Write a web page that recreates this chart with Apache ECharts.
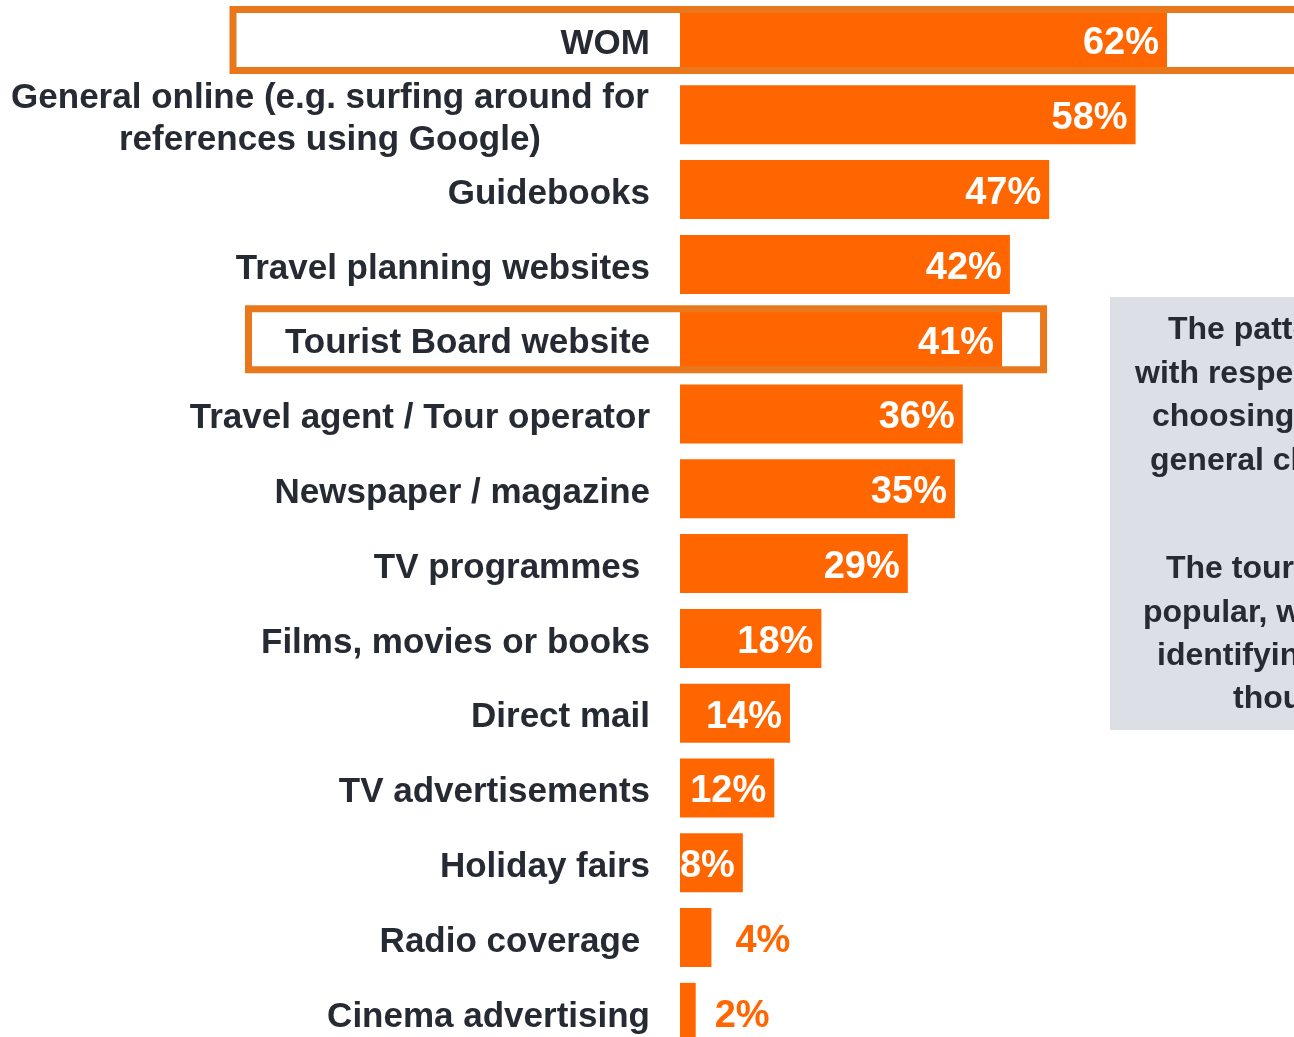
<!DOCTYPE html>
<html>
<head>
<meta charset="utf-8">
<script src="https://cdn.jsdelivr.net/npm/echarts@6/dist/echarts.min.js"></script>
<style>
  html, body { margin: 0; padding: 0; background: #ffffff; overflow: hidden; }
  #chart { width: 1294px; height: 1037px; }
</style>
</head>
<body>
<div id="chart"></div>
<script>
// Sources used when choosing a destination (% of respondents)
const categories = [
  'WOM',
  'General online (e.g. surfing around for\nreferences using Google)',
  'Guidebooks',
  'Travel planning websites',
  'Tourist Board website',
  'Travel agent / Tour operator',
  'Newspaper / magazine',
  'TV programmes ',
  'Films, movies or books',
  'Direct mail',
  'TV advertisements',
  'Holiday fairs',
  'Radio coverage ',
  'Cinema advertising'
];
const shares = [62, 58, 47, 42, 41, 36, 35, 29, 18, 14, 12, 8, 4, 2];
const highlighted = ['WOM', 'Tourist Board website'];

// Commentary panel on the right
const noteLines = [
  'The pattern is similar',
  'with respect to sources for',
  'choosing a destination, with',
  'general channels leading',
  '',
  'The tourist board website is',
  'popular, with around 4 in 10',
  'identifying it as a source,',
  'though less so than WOM'
];

const ORANGE = '#FF6600';
const FRAME = '#E9771C';
const INK = '#262A33';
const FONT = '"Liberation Sans", Arial, sans-serif';

const chart = echarts.init(document.getElementById('chart'), null, { renderer: 'canvas' });

// Tiny bars get their value printed outside in orange
const outsideGap = { 4: 24, 2: 19 };
const barData = shares.map(v => v <= 4
  ? { value: v, label: { position: 'right', color: ORANGE, distance: outsideGap[v] } }
  : v);

chart.setOption({
  backgroundColor: '#ffffff',
  animation: false,
  grid: {
    left: 680, top: 2.6, width: 785.5, height: 1047.2,
    containLabel: false, outerBoundsMode: 'none'
  },
  xAxis: { type: 'value', min: 0, max: 100, show: false },
  yAxis: {
    type: 'category',
    data: categories,
    inverse: true,
    axisLine: { show: false },
    axisTick: { show: false },
    splitLine: { show: false },
    axisLabel: {
      interval: 0,
      margin: 30,
      color: INK,
      fontFamily: FONT,
      fontWeight: 'bold',
      fontSize: 35,
      align: 'right',
      padding: [9, 0, 0, 0],
      formatter: function (v) {
        if (v.indexOf('\n') < 0) return v;
        return v.split('\n').map(s => '{c|' + s + '}').join('\n');
      },
      rich: {
        c: {
          width: 640, align: 'center', color: INK, fontFamily: FONT,
          fontWeight: 'bold', fontSize: 35, lineHeight: 42
        }
      }
    }
  },
  series: [{
    type: 'bar',
    data: barData,
    barWidth: 59,
    itemStyle: { color: ORANGE },
    label: {
      show: true,
      position: 'insideRight',
      distance: 8,
      offset: [0, 4],
      formatter: '{c}%',
      color: '#ffffff',
      fontFamily: FONT,
      fontWeight: 'bold',
      fontSize: 38
    }
  }]
});

// Highlight frames and commentary panel, positioned from the axes
function frameFor(name, left, rightPad) {
  const idx = categories.indexOf(name);
  const p = chart.convertToPixel({ gridIndex: 0 }, [shares[idx], idx]);
  const right = rightPad == null ? 1320 : p[0] + rightPad;
  return {
    type: 'rect', z: 100,
    shape: { x: left, y: p[1] - 30.5, width: right - left, height: 61 },
    style: { fill: null, stroke: FRAME, lineWidth: 7 }
  };
}

const noteX = [1168, 1135, 1152, 1150, 0, 1166, 1143, 1157, 1233];
const noteY = [330, 374, 417, 461, 0, 569, 613, 656, 699];
const notes = noteLines.map((t, i) => t ? {
  type: 'text', z: 101, x: noteX[i], y: noteY[i],
  style: {
    text: t, fill: INK, font: 'bold 32px ' + FONT,
    textAlign: 'left', textVerticalAlign: 'middle'
  }
} : null).filter(Boolean);

chart.setOption({
  graphic: [
    frameFor(highlighted[0], 233, null),
    frameFor(highlighted[1], 248.5, 41.5),
    {
      type: 'rect', z: 99,
      shape: { x: 1110, y: 297, width: 300, height: 433 },
      style: { fill: '#DCDFE6' }
    }
  ].concat(notes)
});
</script>
</body>
</html>
